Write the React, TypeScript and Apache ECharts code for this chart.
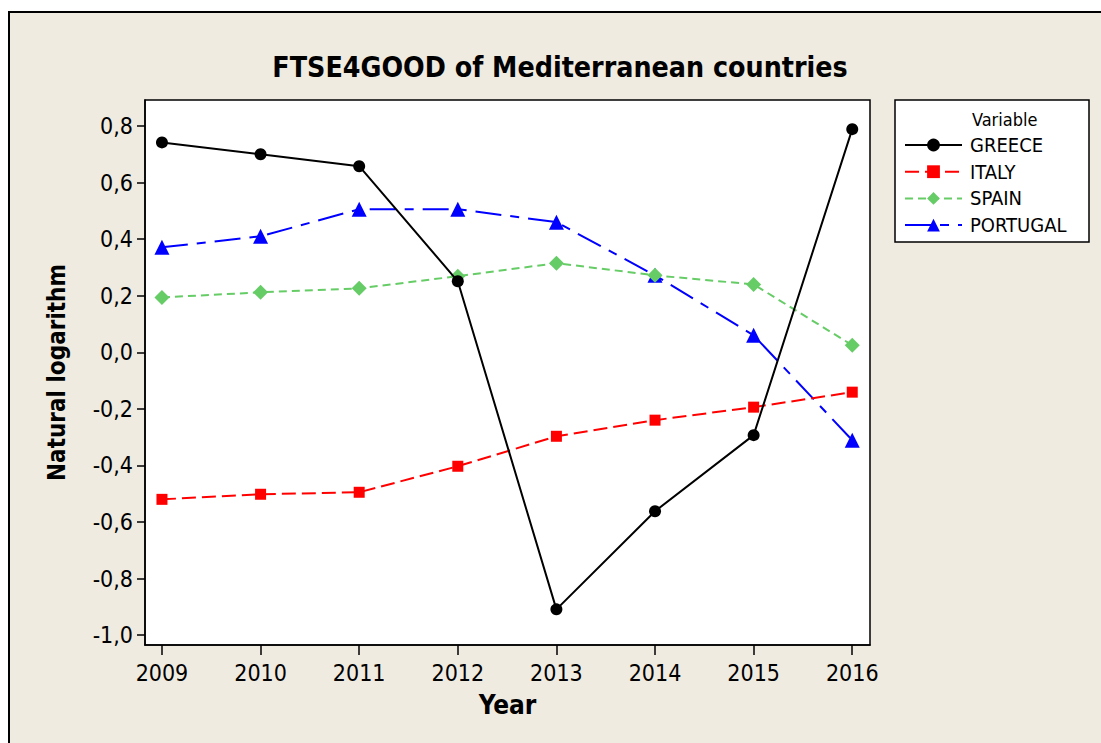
import React, { useEffect, useRef } from "react";
import * as echarts from "echarts";

const years = [2009, 2010, 2011, 2012, 2013, 2014, 2015, 2016];
const greece = [0.742, 0.7, 0.658, 0.251, -0.909, -0.562, -0.293, 0.789];
const italy = [-0.52, -0.502, -0.495, -0.403, -0.297, -0.24, -0.194, -0.141];
const spain = [0.194, 0.212, 0.226, 0.269, 0.315, 0.272, 0.24, 0.025];
const portugal = [0.371, 0.41, 0.506, 0.506, 0.46, 0.272, 0.06, -0.311];
const yTicks = [-1.0, -0.8, -0.6, -0.4, -0.2, 0.0, 0.2, 0.4, 0.6, 0.8];

const FONT = "'DejaVu Sans Condensed', 'DejaVu Sans', Tahoma, sans-serif";

export default function App() {
  const ref = useRef<HTMLDivElement>(null);
  useEffect(() => {
    const chart = echarts.init(ref.current!, null, { renderer: "svg" });
    const pairs = (vals: number[]) => years.map((y, i) => [y, vals[i]]);
    chart.setOption({
      animation: false,
      backgroundColor: "#ffffff",
      textStyle: { fontFamily: FONT },
      title: {
        text: "FTSE4GOOD of Mediterranean countries",
        left: 555,
        textAlign: "center",
        top: 48,
        textStyle: { fontFamily: FONT, fontSize: 28.3, fontWeight: "bold", color: "#000" },
      },
      graphic: [
        {
          type: "rect",
          z: -10,
          shape: { x: 9, y: 12, width: 1200, height: 800 },
          style: { fill: "#efebe1", stroke: "#000", lineWidth: 2 },
        },
        {
          type: "rect",
          z: 3,
          shape: { x: 895, y: 100, width: 194, height: 142 },
          style: { fill: "#ffffff", stroke: "#000", lineWidth: 1.5 },
        },
        {
          type: "text",
          z: 5,
          x: 972,
          y: 119,
          style: { text: "Variable", fill: "#000", font: `18px ${FONT}`, verticalAlign: "middle" },
        },
      ],
      legend: {
        orient: "vertical",
        left: 904,
        top: 134,
        padding: 0,
        itemWidth: 57,
        itemHeight: 16,
        itemGap: 4.7,
        textStyle: { fontFamily: FONT, fontSize: 20, color: "#000", lineHeight: 22, padding: [0, 0, 0, 3] },
        data: ["GREECE", "ITALY", "SPAIN", "PORTUGAL"],
      },
      grid: {
        left: 145,
        top: 100,
        right: 231,
        bottom: 98,
        show: true,
        backgroundColor: "#ffffff",
        borderColor: "#000",
        borderWidth: 1.5,
      },
      xAxis: {
        type: "value",
        min: 2008.828,
        max: 2016.18,
        name: "Year",
        nameLocation: "middle",
        nameGap: 47,
        nameTextStyle: { fontFamily: FONT, fontSize: 26, fontWeight: "bold", color: "#000" },
        axisLine: { show: true, onZero: false, lineStyle: { color: "#000", width: 1.5 } },
        axisTick: { show: true, length: 10, lineStyle: { color: "#000", width: 1.5 }, customValues: years },
        axisLabel: {
          customValues: years,
          margin: 16,
          fontSize: 23,
          color: "#000",
          fontFamily: FONT,
          formatter: (v: number) => String(Math.round(v)),
        },
        splitLine: { show: false },
      },
      yAxis: {
        type: "value",
        min: -1.035,
        max: 0.892,
        name: "Natural logarithm",
        nameLocation: "middle",
        nameGap: 76,
        nameTextStyle: { fontFamily: FONT, fontSize: 24, fontWeight: "bold", color: "#000" },
        axisLine: { show: true, onZero: false, lineStyle: { color: "#000", width: 1.5 } },
        axisTick: { show: true, length: 8, lineStyle: { color: "#000", width: 1.5 }, customValues: yTicks },
        axisLabel: {
          customValues: yTicks,
          margin: 12,
          fontSize: 23,
          color: "#000",
          fontFamily: FONT,
          formatter: (v: number) => (Math.abs(v) < 1e-9 ? "0,0" : v.toFixed(1).replace(".", ",")),
        },
        splitLine: { show: false },
      },
      series: [
        {
          name: "GREECE",
          type: "line",
          data: pairs(greece),
          symbol: "circle",
          symbolSize: 12,
          color: "#000000",
          lineStyle: { color: "#000000", width: 2, type: "solid" },
          itemStyle: { color: "#000000" },
          z: 5,
        },
        {
          name: "ITALY",
          type: "line",
          data: pairs(italy),
          symbol: "rect",
          symbolSize: 11,
          color: "#ff0000",
          lineStyle: { color: "#ff0000", width: 2, type: [14, 6] },
          itemStyle: { color: "#ff0000" },
          z: 4,
        },
        {
          name: "SPAIN",
          type: "line",
          data: pairs(spain),
          symbol: "diamond",
          symbolSize: 15,
          color: "#66cc66",
          lineStyle: { color: "#66cc66", width: 2, type: [8, 5] },
          itemStyle: { color: "#66cc66" },
          z: 3,
        },
        {
          name: "PORTUGAL",
          type: "line",
          data: pairs(portugal),
          symbol: "triangle",
          symbolSize: 15,
          color: "#0000ff",
          lineStyle: { color: "#0000ff", width: 2, type: [26, 9, 9, 9] },
          itemStyle: { color: "#0000ff" },
          z: 2,
        },
      ],
    });
    return () => chart.dispose();
  }, []);
  return (
    <div
      ref={ref}
      style={{ position: "fixed", left: 0, top: 0, width: 1101, height: 743 }}
    />
  );
}
